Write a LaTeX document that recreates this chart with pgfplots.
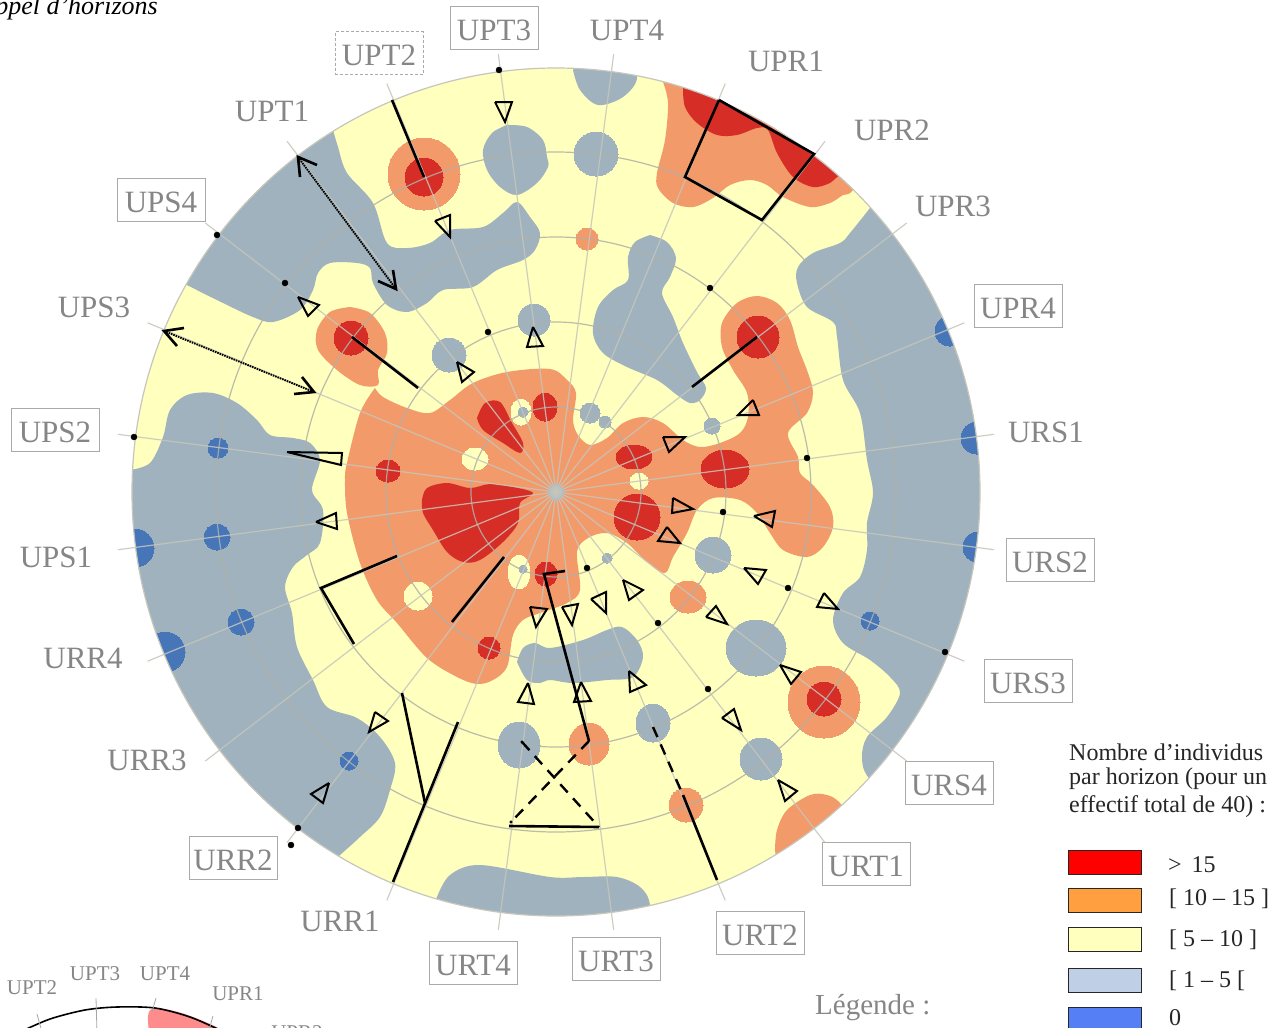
\documentclass[border=0pt]{standalone}
\usepackage{pgfplots}
\pgfplotsset{compat=1.18}
\usepackage{fontspec}
\setmainfont{Liberation Serif}
\definecolor{cY}{HTML}{FFFFBE}
\definecolor{cG}{HTML}{A0B2BD}
\definecolor{cO}{HTML}{F29A6A}
\definecolor{cR}{HTML}{D62D26}
\definecolor{cB}{HTML}{4776B8}
\definecolor{cT}{HTML}{868686}
\definecolor{cBox}{HTML}{AAAAAA}
\definecolor{cGrid}{HTML}{B0B0A8}
\definecolor{cSpoke}{HTML}{C6C6BC}
\definecolor{cOL}{HTML}{FF9F40}
\definecolor{cGL}{HTML}{BFD0E6}
\definecolor{cBL}{HTML}{5580F5}
% colour, x, y, rx, ry, rotation
\newcommand{\blob}[6]{\addplot[only marks,mark=*,mark size=#4,mark options={fill=#1,draw=#1,line width=0pt,yscale=#5/#4,rotate=#6}] coordinates {(#2,#3)};}
\newcommand{\shape}[2]{\addplot[fill=#1,draw=none,smooth,tension=0.55] coordinates {#2};}
\newcommand{\tri}[1]{\addplot[draw=black,line width=2pt,line join=miter] coordinates {#1};}
\newcommand{\blk}[1]{\addplot[draw=black,line width=2.6pt,line join=miter] coordinates {#1};}
\newcommand{\spoke}[1]{\addplot[draw=cSpoke,opacity=0.85,line width=1.2pt] coordinates {#1};}
\newcommand{\ring}[1]{\addplot[only marks,mark=o,mark size=#1,mark options={draw=cGrid,opacity=0.85,line width=1.2pt}] coordinates {(556,492)};}
\newcommand{\lab}[3]{\node[text=cT,font=\fontsize{31}{36}\selectfont] at (axis cs:#1,#2) {#3};}
\newcommand{\boxlab}[3]{\node[text=cT,draw=cBox,line width=1pt,minimum width=88pt,minimum height=43pt,inner sep=0pt,font=\fontsize{31}{36}\selectfont] at (axis cs:#1,#2) {\rule{0pt}{25pt}#3};}
\newcommand{\swatch}[3]{\addplot[fill=#1,draw=black!85,line width=1pt] coordinates {(1068,#2)(1141,#2)(1141,#3)(1068,#3)(1068,#2)};}
\newcommand{\legt}[3]{\node[anchor=west,inner sep=0pt,text=black!85,font=\fontsize{24}{28}\selectfont] at (axis cs:#1,#2) {#3};}
\begin{document}
\begin{tikzpicture}
\begin{axis}[
  scale only axis,width=1288pt,height=1028pt,
  xmin=0,xmax=1288,ymin=0,ymax=1028,y dir=reverse,
  hide axis,clip=true,clip mode=individual]
% base disc
\blob{cY}{556}{492}{424}{424}{0}
% grey regions
\shape{cG}{(333,130)(338,147)(347,173)(373,203)(387,243)(407,248)(430,243)(450,230)(483,227)(503,213)(517,202)(530,217)(540,233)(535,250)(523,260)(497,270)(473,287)(443,290)(427,303)(407,312)(387,305)(373,283)(370,268)(357,263)(330,263)(318,273)(313,290)(300,310)(273,322)(253,317)(223,303)(187,285)(150,265)(120,200)(220,90)(333,100)(333,130)}
\shape{cG}{(130,470)(150,463)(163,437)(170,410)(187,395)(213,393)(237,403)(257,420)(270,435)(293,438)(310,443)(320,460)(312,490)(323,510)(320,543)(307,555)(293,567)(285,587)(292,613)(297,647)(313,680)(327,707)(357,718)(380,737)(395,763)(390,790)(380,817)(360,837)(340,855)(300,890)(150,850)(70,600)(90,480)(130,470)}
\shape{cG}{(870,208)(850,233)(840,243)(813,253)(798,267)(797,283)(807,307)(833,322)(837,337)(843,380)(860,413)(867,460)(873,493)(867,523)(867,550)(860,577)(843,593)(833,620)(843,643)(870,660)(890,677)(900,693)(887,717)(867,737)(862,757)(868,777)(900,810)(1040,650)(1050,300)(900,170)(870,208)}
\shape{cG}{(437,897)(450,875)(480,865)(550,877)(583,877)(617,877)(640,887)(650,905)(650,950)(440,950)(437,897)}
\shape{cG}{(573,70)(580,90)(598,105)(623,97)(637,77)(620,50)(590,50)(573,70)}
\shape{cG}{(507,125)(527,127)(543,140)(547,157)(548,167)(537,183)(517,195)(500,187)(487,170)(483,150)(492,133)(507,125)}
\shape{cG}{(650,235)(667,242)(676,258)(670,277)(662,293)(673,317)(683,343)(697,372)(706,388)(700,400)(690,403)(677,395)(657,380)(627,367)(603,353)(593,333)(598,307)(613,290)(628,280)(628,257)(635,242)(650,235)}
\shape{cG}{(517,662)(523,648)(535,643)(550,648)(583,640)(607,630)(622,627)(637,640)(643,657)(633,677)(607,680)(573,683)(550,680)(540,683)(527,680)(517,662)}
\blob{cG}{596}{154}{22}{22}{0}
\blob{cG}{534}{320}{16}{16}{0}
\blob{cG}{449}{355}{17}{17}{0}
\blob{cG}{590}{413}{10}{10}{0}
\blob{cG}{605}{422}{6}{6}{0}
\blob{cG}{712}{426}{8}{8}{0}
\blob{cG}{519}{745}{21}{23}{0}
\blob{cG}{713}{555}{18}{18}{0}
\blob{cG}{756}{648}{30}{28}{0}
\blob{cG}{653}{723}{17}{19}{0}
\blob{cG}{761}{759}{21}{21}{0}
% orange regions
\shape{cO}{(375,388)(383,397)(407,408)(430,413)(450,400)(473,383)(507,372)(550,369)(567,380)(576,393)(573,420)(578,435)(590,445)(607,438)(623,423)(643,417)(663,423)(683,440)(700,447)(720,443)(740,433)(748,417)(747,393)(733,370)(722,347)(722,323)(737,303)(757,296)(777,303)(790,320)(798,347)(808,373)(813,393)(807,413)(788,433)(798,457)(800,473)(813,485)(830,507)(833,527)(823,547)(807,557)(783,550)(770,533)(757,513)(740,500)(713,498)(697,510)(687,533)(673,557)(665,573)(647,562)(627,543)(607,533)(588,538)(577,552)(580,590)(567,603)(540,613)(523,620)(513,635)(507,667)(493,680)(477,684)(457,677)(427,658)(397,623)(377,600)(360,563)(347,513)(345,480)(347,463)(360,413)(375,388)}
\shape{cO}{(350,307)(370,313)(385,333)(387,353)(378,370)(378,385)(360,385)(337,370)(318,350)(317,330)(330,312)(350,307)}
\shape{cO}{(663,82)(668,103)(665,140)(657,173)(658,188)(673,203)(693,207)(713,198)(730,185)(750,180)(767,185)(783,197)(810,207)(830,203)(843,195)(853,190)(880,150)(750,40)(665,50)(663,82)}
\shape{cO}{(775,850)(777,830)(787,810)(810,795)(827,795)(840,803)(860,830)(850,860)(790,885)(775,850)}
\blob{cO}{424}{174}{36}{36}{0}
\blob{cO}{824}{702}{36}{36}{0}
\blob{cO}{589}{744}{20}{21}{0}
\blob{cO}{686}{805}{17}{17}{0}
\blob{cO}{688}{597}{18}{16}{0}
\blob{cO}{587}{239}{11}{11}{0}
% yellow holes
\blob{cY}{521}{412}{10}{13}{0}
\blob{cY}{475}{459}{13}{11}{0}
\blob{cY}{519}{572}{11}{17}{-15}
\blob{cY}{418}{596}{14}{14}{0}
\blob{cY}{639}{481}{9}{8}{0}
% red regions
\shape{cR}{(422,500)(427,488)(447,483)(470,488)(490,484)(513,487)(533,493)(520,503)(518,523)(503,542)(480,560)(463,562)(447,552)(433,530)(423,513)(422,500)}
\shape{cR}{(477,418)(485,403)(500,402)(512,423)(523,443)(520,453)(503,443)(483,430)(477,418)}
\shape{cR}{(683,88)(685,107)(697,123)(717,135)(737,135)(757,128)(768,130)(777,153)(793,177)(813,187)(830,183)(840,175)(880,150)(800,50)(690,50)(683,88)}
\blob{cR}{545}{407}{12}{14}{0}
\blob{cR}{388}{471}{12}{11}{0}
\blob{cR}{351}{338}{17}{17}{0}
\blob{cR}{424}{177}{19}{19}{0}
\blob{cR}{758}{337}{21}{21}{0}
\blob{cR}{725}{469}{24}{19}{0}
\blob{cR}{634}{457}{18}{12}{15}
\blob{cR}{637}{517}{23}{23}{0}
\blob{cR}{546}{574}{11}{12}{0}
\blob{cR}{489}{648}{11}{11}{0}
\blob{cR}{824}{699}{17}{17}{0}
% small grey spots on top
\blob{cG}{523}{412}{5}{5}{0}
\blob{cG}{523}{569}{4}{4}{0}
\blob{cG}{607}{558}{5}{5}{0}
\blob{cG}{556}{492}{8}{8}{0}
% blue
\blob{cB}{218}{448}{10}{10}{0}
\blob{cB}{217}{537}{13}{13}{0}
\blob{cB}{241}{622}{13}{13}{0}
\blob{cB}{349}{761}{9}{9}{0}
\blob{cB}{135}{548}{19}{19}{0}
\blob{cB}{165}{652}{20}{20}{0}
\blob{cB}{950}{331}{15}{15}{0}
\blob{cB}{977}{438}{16}{16}{0}
\blob{cB}{978}{547}{15}{15}{0}
\blob{cB}{870}{621}{9}{9}{0}
% white mask outside the disc
\addplot[only marks,mark=o,mark size=484,mark options={draw=white,line width=120pt}] coordinates {(556,492)};
% grid
\ring{85}\ring{170}\ring{255}\ring{340}
\addplot[only marks,mark=o,mark size=424,mark options={draw=cSpoke,line width=1.2pt}] coordinates {(556,492)};
\spoke{(994,434.3)(118,549.7)}
\spoke{(994,549.7)(118,434.3)}
\spoke{(964.4,322.8)(147.6,661.2)}
\spoke{(964.4,661.2)(147.6,322.8)}
\spoke{(906.7,223)(205.3,761)}
\spoke{(906.7,761)(205.3,223)}
\spoke{(825,141.3)(287,842.7)}
\spoke{(825,842.7)(287,141.3)}
\spoke{(725.2,83.6)(386.8,900.4)}
\spoke{(725.2,900.4)(386.8,83.6)}
\spoke{(613.7,54)(498.3,930)}
\spoke{(613.7,930)(498.3,54)}
% dots
\addplot[only marks,mark=*,mark size=3pt,color=black] coordinates {(499,70)(217,235)(285,283)(488,332)(134,437)(710,288)(807,458)(298,828)(291,845)(723,512)(587,568)(788,588)(658,623)(708,689)(945,652)};
\addplot[only marks,mark=*,mark size=1.3pt,color=black] coordinates {(522,742)(511,822)};
% triangles
\tri{(495,102)(512,102)(505,122)(495,102)}
\tri{(435,221)(450,215)(450,237)(435,221)}
\tri{(298,297)(319,305)(308,316)(298,297)}
\tri{(457,362)(474,372)(462,382)(457,362)}
\tri{(533,327)(543,346)(527,347)(533,327)}
\tri{(287,452)(342,453)(341,465)(287,452)}
\tri{(753,400)(759,415)(738,415)(753,400)}
\tri{(663,437)(685,437)(669,452)(663,437)}
\tri{(316,522)(336,513)(337,529)(316,522)}
\tri{(530,607)(547,609)(536,627)(530,607)}
\tri{(528,683)(534,704)(518,702)(528,683)}
\tri{(375,712)(388,721)(369,732)(375,712)}
\tri{(329,783)(323,803)(311,794)(329,783)}
\tri{(673,498)(693,509)(672,513)(673,498)}
\tri{(667,527)(680,543)(658,541)(667,527)}
\tri{(754,516)(775,511)(772,527)(754,516)}
\tri{(744,568)(766,570)(758,584)(744,568)}
\tri{(824,593)(838,609)(817,607)(824,593)}
\tri{(623,580)(643,590)(629,600)(623,580)}
\tri{(591,599)(606,592)(606,613)(591,599)}
\tri{(562,607)(578,604)(572,625)(562,607)}
\tri{(706,617)(716,606)(727,624)(706,617)}
\tri{(780,665)(801,672)(791,684)(780,665)}
\tri{(629,671)(646,685)(630,692)(629,671)}
\tri{(581,682)(591,701)(574,702)(581,682)}
\tri{(722,718)(734,709)(741,730)(722,718)}
\tri{(778,780)(797,791)(785,801)(778,780)}
% black lines
\blk{(392,100)(424,177)}
\blk{(352,337)(418,388)}
\blk{(757,337)(692,387)}
\blk{(719,100)(814,154)(762,220)(685,177)(719,100)}
\blk{(397,556)(321,588)(354,644)}
\blk{(504,557)(452,622)}
\blk{(402,693)(425,803)}
\blk{(458,722)(393,882)}
\blk{(509,826)(599,827)}
\blk{(565,571)(544,574)(589,741)}
\blk{(683,795)(717,880)}
\addplot[draw=black,line width=2.4pt,dash pattern=on 11pt off 8pt] coordinates {(589,741)(511,822)};
\addplot[draw=black,line width=2.4pt,dash pattern=on 11pt off 8pt] coordinates {(522,742)(599,827)};
\addplot[draw=black,line width=2.4pt,dash pattern=on 11pt off 8pt] coordinates {(653,727)(683,795)};
% double arrows
\addplot[draw=black,line width=1.9pt,dash pattern=on 1.6pt off 0.9pt] coordinates {(298,157)(396,289)};
\addplot[draw=black,line width=1.9pt,dash pattern=on 1.6pt off 0.9pt] coordinates {(164,331)(314,392)};
\blk{(300,177)(298,157)(317,165)}
\blk{(393,270)(396,289)(378,281)}
\blk{(184,328)(164,331)(177,346)}
\blk{(302,377)(314,392)(294,394)}
% legend swatches
\swatch{red}{850}{874}
\swatch{cOL}{888}{912}
\swatch{cY}{927}{951}
\swatch{cGL}{968}{992}
\swatch{cBL}{1007}{1040}
% inset
\addplot[fill=red!45!white,draw=none,smooth,tension=0.5] coordinates {(150,1040)(148,1016)(155,1008)(185,1014)(222,1030)(225,1040)(150,1040)};
\addplot[draw=black,line width=1.6pt,smooth] coordinates {(20,1032)(50,1019)(85,1010)(117,1007)(155,1008)(190,1017)(222,1031)};
\addplot[draw=gray!70,line width=0.8pt] coordinates {(37,1014)(42,1032)};
\addplot[draw=gray!70,line width=0.8pt] coordinates {(96,998)(97,1032)};
\addplot[draw=gray!70,line width=0.8pt] coordinates {(156,998)(152,1012)};
\addplot[draw=gray!70,line width=0.8pt] coordinates {(213,1016)(209,1030)};
% labels
\boxlab{494}{28}{UPT3}
\lab{627}{30}{UPT4}
\lab{786}{61}{UPR1}
\lab{892}{130}{UPR2}
\lab{953}{206}{UPR3}
\boxlab{1018}{306}{UPR4}
\lab{1046}{432}{URS1}
\boxlab{1050}{560}{URS2}
\boxlab{1028}{681}{URS3}
\boxlab{949}{783}{URS4}
\boxlab{866}{864}{URT1}
\boxlab{760}{933}{URT2}
\boxlab{616}{959}{URT3}
\boxlab{473}{963}{URT4}
\lab{340}{921}{URR1}
\boxlab{233}{858}{URR2}
\lab{147}{760}{URR3}
\lab{83}{658}{URR4}
\lab{56}{557}{UPS1}
\boxlab{55}{430}{UPS2}
\lab{94}{307}{UPS3}
\boxlab{161}{200}{UPS4}
\lab{272}{111}{UPT1}
\node[text=cT,draw=cBox,densely dashed,line width=1pt,minimum width=88pt,minimum height=43pt,inner sep=0pt,font=\fontsize{31}{36}\selectfont] at (axis cs:379,53) {\rule{0pt}{25pt}UPT2};
% corner text
\node[anchor=east,inner sep=0pt,font=\fontsize{26}{30}\itshape\selectfont] at (axis cs:158,8) {Appel d’horizons};
% legend
\legt{1069}{752}{Nombre d’individus}
\legt{1069}{779}{par horizon (pour un}
\legt{1069}{807}{effectif total de 40) :}
\legt{1168}{865}{>\, 15}
\legt{1169}{899}{[ 10 – 15 ]}
\legt{1169}{940}{[ 5 – 10 ]}
\legt{1169}{981}{[ 1 – 5 [}
\legt{1169}{1018}{0}
\node[anchor=west,inner sep=0pt,text=cT,font=\fontsize{29}{34}\selectfont] at (axis cs:815,1008) {Légende :};
% inset labels
\node[text=cT,font=\fontsize{21}{24}\selectfont] at (axis cs:32,988) {UPT2};
\node[text=cT,font=\fontsize{21}{24}\selectfont] at (axis cs:95,974) {UPT3};
\node[text=cT,font=\fontsize{21}{24}\selectfont] at (axis cs:165,974) {UPT4};
\node[text=cT,font=\fontsize{21}{24}\selectfont] at (axis cs:238,994) {UPR1};
\node[text=cT,font=\fontsize{21}{24}\selectfont] at (axis cs:297,1033) {UPR2};
\end{axis}
\pgfresetboundingbox
\useasboundingbox (0,0) rectangle (1288pt,1028pt);
\end{tikzpicture}
\end{document}
